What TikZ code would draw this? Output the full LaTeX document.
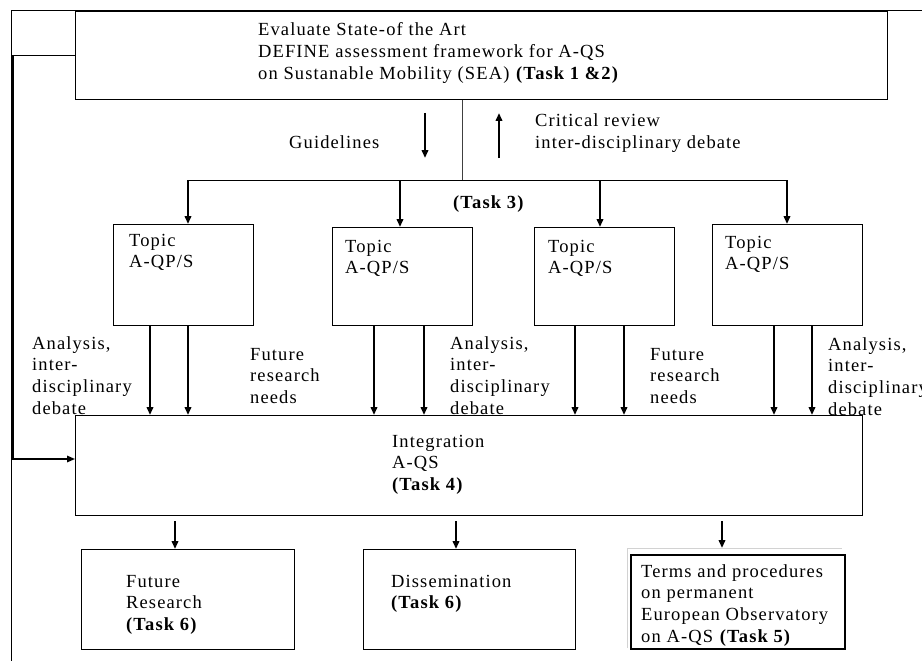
\documentclass[tikz,border=0pt]{standalone}
\usepackage{fontspec}
\setmainfont{Liberation Serif}[LetterSpace=6]
\usetikzlibrary{arrows.meta}
\newcommand\mlines[1]{\begin{tabular}[t]{@{}l@{}}#1\end{tabular}}
\begin{document}
\begin{tikzpicture}[x=1pt,y=-1pt,
  box/.style={draw, line width=1pt, rectangle, inner sep=0pt, anchor=north west},
  lbl/.style={anchor=base west, inner sep=0pt, font=\fontsize{18.5}{21.7}\selectfont},
  arr/.style={-{Triangle[length=8pt,width=6.5pt]}, line width=2pt},
  thickarr/.style={arr, line width=2.8pt},
  thin/.style={line width=1pt}]
\useasboundingbox (0,0) rectangle (922,661);

% boxes
\node[box, minimum width=812pt, minimum height=88pt] (top) at (75,11) {};
\node[box, minimum width=140pt, minimum height=101pt] (t1) at (113,224) {};
\node[box, minimum width=140pt, minimum height=98pt] (t2) at (332,227) {};
\node[box, minimum width=140pt, minimum height=98pt] (t3) at (534,227) {};
\node[box, minimum width=150pt, minimum height=101pt] (t4) at (712,224) {};
\node[box, minimum width=787pt, minimum height=100pt] (integ) at (75,415) {};
\node[box, minimum width=213pt, minimum height=100pt] (fr) at (81,549) {};
\node[box, minimum width=212pt, minimum height=100pt] (ds) at (363,549) {};
\node[box, line width=2pt, minimum width=214pt, minimum height=94pt] (ob) at (630,554) {};
\draw[gray!35, line width=0.8pt] (627,648) -- (627,548) -- (842,548);

% frame lines
\draw[thin] (11,661) -- (11,11) -- (922,11);

% feedback loop
\coordinate (fb) at (13,459);
\draw[arr, line width=1.5pt] (top.west) -- (13,0 |- top.west) -- (fb) -- (fb -| integ.west);

% distribution
\coordinate (hub) at (462,180);
\draw[thin, black!75] (hub |- top.south) -- (hub);
\draw[thin] (188,180) -- (787,180);
\foreach \x/\n in {188/t1,400/t2,600/t3,787/t4}
  \draw[arr] (\x,180) -- (\x,0 |- \n.north);

% guidelines / critical review arrows
\draw[arr] (425,113) -- (425,158);
\draw[arr] (499,158) -- (499,113);

% topic -> integration
\foreach \x/\n in {150/t1,188/t1,374/t2,424/t2,575/t3,624/t3,774/t4,812/t4}
  \draw[thickarr] (\x,0 |- \n.south) -- (\x,0 |- integ.north);

% integration -> outputs
\draw[arr, shorten <=5pt] (175,0 |- integ.south) -- (175,0 |- fr.north);
\draw[arr, shorten <=5pt] (456,0 |- integ.south) -- (456,0 |- ds.north);
\draw[arr, shorten <=5pt, shorten >=6pt] (722,0 |- integ.south) -- (722,0 |- ob.north);

% texts
\node[lbl] (ttop) at (258,36) {\mlines{Evaluate State-of the Art\\DEFINE assessment framework for A-QS\\on Sustanable Mobility (SEA) \textbf{(Task 1 \&2)}}};
\node[lbl] (tguide) at (289,149) {Guidelines};
\node[lbl] (tcrit) at (535,127) {\mlines{Critical review\\inter-disciplinary debate}};
\node[lbl] (ttask3) at (453,208) {\textbf{(Task 3)}};
\node[lbl] (tt1) at (129,246) {\mlines{Topic\\A-QP/S}};
\node[lbl] (tt2) at (345,252) {\mlines{Topic\\A-QP/S}};
\node[lbl] (tt3) at (548,252) {\mlines{Topic\\A-QP/S}};
\node[lbl] (tt4) at (725,248) {\mlines{Topic\\A-QP/S}};
\node[lbl] (an1) at (32,349) {\mlines{Analysis,\\inter-\\disciplinary\\debate}};
\node[lbl] (an2) at (450,349) {\mlines{Analysis,\\inter-\\disciplinary\\debate}};
\node[lbl] (an3) at (828,350) {\mlines{Analysis,\\inter-\\disciplinary\\debate}};
\node[lbl] (fu1) at (250,360) {\mlines{Future\\research\\needs}};
\node[lbl] (fu2) at (650,360) {\mlines{Future\\research\\needs}};
\node[lbl] (tint) at (392,447) {\mlines{Integration\\A-QS\\\textbf{(Task 4)}}};
\node[lbl] (tfr) at (126,587) {\mlines{Future\\Research\\\textbf{(Task 6)}}};
\node[lbl] (tds) at (391,587) {\mlines{Dissemination\\\textbf{(Task 6)}}};
\node[lbl] (tob) at (641,577) {\mlines{Terms and procedures\\on permanent\\European Observatory\\on A-QS \textbf{(Task 5)}}};
\end{tikzpicture}
\end{document}
